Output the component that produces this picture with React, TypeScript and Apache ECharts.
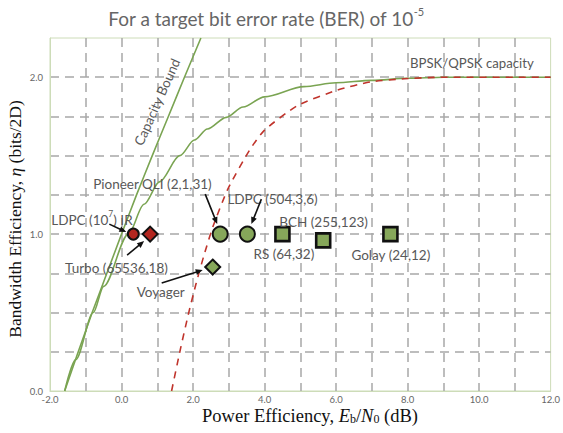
import React, { useEffect, useRef } from "react";
import * as echarts from "echarts";

// ---- data ----
// Shannon capacity bound (Eb/N0 dB, bits/2D)
const capacityEbN0 = [-1.59, -1.21, -0.82, -0.41, 0.0, 0.42, 0.86, 1.31, 1.76, 2.22];
const capacityEta = [0, 0.25, 0.5, 0.75, 1.0, 1.25, 1.5, 1.75, 2.0, 2.25];

// BPSK/QPSK capacity
const bpskEbN0 = [-1.59, -1.28, -0.79, -0.5, 0.19, 0.63, 1.06, 1.63, 2.04, 2.4, 2.93, 3.4, 4.0, 5.1, 6.0, 7.0, 8.0, 9.0, 12.0];
const bpskEta = [0, 0.2, 0.5, 0.667, 1.0, 1.19, 1.333, 1.5, 1.6, 1.67, 1.744, 1.81, 1.875, 1.94, 1.965, 1.98, 1.993, 2.0, 2.0];

// red dashed curve
const redEbN0 = [1.4, 1.65, 1.87, 2.08, 2.3, 2.56, 2.98, 3.58, 4.0, 4.93, 6.04, 6.96, 7.9, 9.0, 12.0];
const redEta = [0, 0.27, 0.49, 0.68, 0.86, 1.05, 1.29, 1.535, 1.663, 1.82, 1.918, 1.97, 1.99, 2.0, 2.0];

// codes
const codeNames = [
  "LDPC (10^7) IR",
  "Turbo (65536,18)",
  "Pioneer QLI (2,1,31)",
  "LDPC (504,3,6)",
  "Voyager",
  "RS (64,32)",
  "BCH (255,123)",
  "Golay (24,12)",
];
const codeEbN0 = [0.33, 0.8, 2.76, 3.52, 2.55, 4.5, 5.64, 7.52];
const codeEta = [1.0, 1.0, 1.0, 1.0, 0.79, 1.0, 0.96, 1.0];

const xTickLabels = ["-2.0", "0.0", "2.0", "4.0", "6.0", "8.0", "10.0", "12.0"];
const yTickLabels = ["0.0", "1.0", "2.0"];

// ---- styles ----
const RED = "#b3261f";
const GREEN_FILL = "#86a75a";
const GREEN_LINE = "#7aa452";
const TXT = "#585858";
const SANS = "Lato, 'Open Sans', sans-serif";
const SERIF = "'Liberation Serif', 'DejaVu Serif', serif";
const LABEL_SIZE = 13.5;

const codeStyle = [
  { symbol: "circle", size: 11, color: RED },
  { symbol: "diamond", size: 15, color: RED },
  { symbol: "circle", size: 15, color: GREEN_FILL },
  { symbol: "circle", size: 15, color: GREEN_FILL },
  { symbol: "diamond", size: 15, color: GREEN_FILL },
  { symbol: "rect", size: 14, color: GREEN_FILL },
  { symbol: "rect", size: 14, color: GREEN_FILL },
  { symbol: "rect", size: 14, color: GREEN_FILL },
];
// label anchor offsets (left, middle) from the marker, in px
const labelOffset = [
  [-82, -16],
  [-85, 32],
  [-127, -52],
  [-20, -37],
  [-76, 23],
  [-29, 18],
  [-44, -20],
  [-39, 19],
];
// arrows: [tailDx, tailDy, tipDx, tipDy] relative to marker, or null
const arrowOffset: (number[] | null)[] = [
  [-24, -10, -7, -2],
  [-23, 21, -6, 7],
  [-15, -40, -3, -10],
  [14, -35, 4, -10],
  [-51, 16, -10, 3],
  null,
  null,
  null,
];

const zip = (a: number[], b: number[]) => a.map((v, i) => [v, b[i]]);

export default function App() {
  const ref = useRef<HTMLDivElement>(null);
  useEffect(() => {
    const chart = echarts.init(ref.current!, undefined, { renderer: "svg" });
    const splitStyle = { color: "#a8a8a8", width: 1.5, type: [9, 6] };
    const option: any = {
      animation: false,
      backgroundColor: "#ffffff",
      grid: {
        left: 50,
        right: 8,
        top: 38,
        bottom: 42,
        show: true,
        borderColor: "#cddcb8",
        borderWidth: 1,
        backgroundColor: "transparent",
      },
      xAxis: {
        type: "value",
        min: -2,
        max: 12,
        interval: 1,
        axisLine: { show: true, onZero: false, lineStyle: { color: "#cddcb8", width: 1 } },
        axisTick: { show: false },
        axisLabel: {
          color: "#666",
          fontSize: 9.5,
          fontFamily: SANS,
          margin: 3,
          formatter: (v: number) => {
            const s = v.toFixed(1);
            return xTickLabels.includes(s) ? s : "";
          },
        },
        splitLine: { show: true, showMinLine: false, showMaxLine: false, lineStyle: splitStyle },
      },
      yAxis: {
        type: "value",
        min: 0,
        max: 2.25,
        interval: 0.25,
        axisLine: { show: true, onZero: false, lineStyle: { color: "#cddcb8", width: 1 } },
        axisTick: { show: false },
        axisLabel: {
          color: "#666",
          fontSize: 9.5,
          fontFamily: SANS,
          margin: 7,
          formatter: (v: number) => {
            const s = v.toFixed(1);
            return yTickLabels.includes(s) && Math.abs(v - Math.round(v)) < 1e-9 ? s : "";
          },
        },
        splitLine: { show: true, showMinLine: false, showMaxLine: false, lineStyle: splitStyle },
      },
      series: [
        {
          name: "Capacity Bound",
          type: "line",
          data: zip(capacityEbN0, capacityEta),
          showSymbol: false,
          smooth: 0.2,
          lineStyle: { color: GREEN_LINE, width: 1.6 },
          z: 3,
        },
        {
          name: "BPSK/QPSK capacity",
          type: "line",
          data: zip(bpskEbN0, bpskEta),
          showSymbol: false,
          smooth: 0.3,
          smoothMonotone: "x",
          lineStyle: { color: GREEN_LINE, width: 1.6 },
          z: 3,
        },
        {
          name: "uncoded",
          type: "line",
          data: zip(redEbN0, redEta),
          showSymbol: false,
          smooth: 0.2,
          lineStyle: { color: "#c0342c", width: 1.6, type: [7, 6] },
          z: 4,
        },
        {
          name: "codes",
          type: "scatter",
          z: 6,
          data: codeEbN0.map((x, i) => ({
            name: codeNames[i],
            value: [x, codeEta[i]],
            symbol: codeStyle[i].symbol,
            symbolSize: codeStyle[i].size,
            itemStyle: {
              color: codeStyle[i].color,
              borderColor: "#111",
              borderWidth: i >= 5 ? 2.6 : 2,
              opacity: 1,
            },
          })),
        },
      ],
    };
    chart.setOption(option);

    const graphics: any[] = [];
    // title
    graphics.push({
      type: "text",
      x: 266,
      y: 17,
      style: {
        text: "{a|For a target bit error rate (BER) of 10}{s|-5}",
        align: "center",
        verticalAlign: "middle",
        rich: {
          a: { fontSize: 19, fontFamily: SANS, fill: "#666", verticalAlign: "bottom", lineHeight: 22 },
          s: { fontSize: 11, fontFamily: SANS, fill: "#666", verticalAlign: "top", lineHeight: 22 },
        },
      },
    });
    // x axis title
    graphics.push({
      type: "text",
      x: 310,
      y: 416,
      style: {
        text: "{n|Power Efficiency, }{i|E}{b|b}{n|/}{i|N}{b|0}{n| (dB)}",
        align: "center",
        verticalAlign: "middle",
        rich: {
          n: { fontSize: 18.5, fontFamily: SERIF, fill: "#111", verticalAlign: "middle", lineHeight: 18 },
          i: { fontSize: 18.5, fontFamily: SERIF, fontStyle: "italic", fill: "#111", verticalAlign: "middle", lineHeight: 18 },
          b: { fontSize: 12, fontFamily: SERIF, fill: "#111", verticalAlign: "bottom", lineHeight: 18 },
        },
      },
    });
    // y axis title
    graphics.push({
      type: "text",
      x: 15,
      y: 219,
      rotation: Math.PI / 2,
      style: {
        text: "{n|Bandwidth Efficiency, }{i|η}{n| (bits/2D)}",
        align: "center",
        verticalAlign: "middle",
        rich: {
          n: { fontSize: 17.5, fontFamily: SERIF, fill: "#111" },
          i: { fontSize: 17.5, fontFamily: SERIF, fontStyle: "italic", fill: "#111" },
        },
      },
    });
    // Capacity Bound label
    graphics.push({
      type: "text",
      x: 157,
      y: 102,
      rotation: (66 * Math.PI) / 180,
      style: {
        text: "Capacity Bound",
        fontSize: LABEL_SIZE,
        fontFamily: SANS,
        fill: TXT,
        align: "center",
        verticalAlign: "middle",
      },
    });
    // BPSK/QPSK capacity label
    graphics.push({
      type: "text",
      x: 410,
      y: 63,
      style: {
        text: "BPSK/QPSK capacity",
        fontSize: 13.2,
        fontFamily: SANS,
        fill: TXT,
        align: "left",
        verticalAlign: "middle",
      },
    });

    codeEbN0.forEach((x, i) => {
      const p = chart.convertToPixel({ gridIndex: 0 }, [x, codeEta[i]]) as number[];
      const [ox, oy] = labelOffset[i];
      const name = codeNames[i];
      let text = name;
      const rich: any = {
        t: { fontSize: LABEL_SIZE, fontFamily: SANS, fill: TXT, verticalAlign: "bottom", lineHeight: 17 },
        s: { fontSize: 8.5, fontFamily: SANS, fill: TXT, verticalAlign: "top", lineHeight: 17 },
      };
      if (name.includes("^")) {
        const m = name.match(/^(.*)\^(\d+)(.*)$/)!;
        text = `{t|${m[1]}}{s|${m[2]}}{t|${m[3]}}`;
      } else {
        text = `{t|${name}}`;
      }
      graphics.push({
        type: "text",
        x: p[0] + ox,
        y: p[1] + oy,
        z: 10,
        style: { text, rich, align: "left", verticalAlign: "middle" },
      });
      const a = arrowOffset[i];
      if (a) {
        const tx = p[0] + a[0], ty = p[1] + a[1];
        const hx = p[0] + a[2], hy = p[1] + a[3];
        const dx = hx - tx, dy = hy - ty;
        const len = Math.hypot(dx, dy);
        const ux = dx / len, uy = dy / len;
        const nx = -uy, ny = ux;
        const L = 7, Wd = 6;
        graphics.push({
          type: "line",
          z: 10,
          shape: { x1: tx, y1: ty, x2: hx - ux * L * 0.8, y2: hy - uy * L * 0.8 },
          style: { stroke: "#111", lineWidth: 1.6 },
        });
        graphics.push({
          type: "polygon",
          z: 10,
          shape: {
            points: [
              [hx, hy],
              [hx - ux * L + (nx * Wd) / 2, hy - uy * L + (ny * Wd) / 2],
              [hx - ux * L - (nx * Wd) / 2, hy - uy * L - (ny * Wd) / 2],
            ],
          },
          style: { fill: "#111" },
        });
      }
    });

    chart.setOption({ graphic: graphics });
    return () => chart.dispose();
  }, []);
  return (
    <div
      ref={ref}
      style={{ position: "fixed", left: 0, top: 0, width: 563, height: 433, background: "#fff" }}
    />
  );
}
